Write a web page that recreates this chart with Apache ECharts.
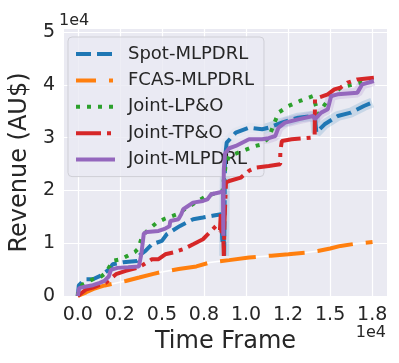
<!DOCTYPE html>
<html>
<head>
<meta charset="utf-8">
<script src="https://cdn.jsdelivr.net/npm/echarts@6/dist/echarts.min.js"></script>
<style>
  html, body { margin: 0; padding: 0; background: #fff; }
  #chart { width: 399px; height: 363px; }
</style>
</head>
<body>
<div id="chart"></div>
<script>
// ticks (matplotlib scalar formatter with 1e4 offset)
const xTicks = [0, 2500, 5000, 7500, 10000, 12500, 15000, 17500];
const xTickLabels = ['0.0', '0.2', '0.5', '0.8', '1.0', '1.2', '1.5', '1.8'];
const yTicks = [0, 10000, 20000, 30000, 40000, 50000];
const yTickLabels = ['0', '1', '2', '3', '4', '5'];

const seriesNames = ['Spot-MLPDRL', 'FCAS-MLPDRL', 'Joint-LP&O', 'Joint-TP&O', 'Joint-MLPDRL'];

// [time frame, revenue]
const spotMlpdrl = [
  [0, 0], [60, 2000], [120, 2230], [410, 3180], [900, 3180], [1400, 3900], [1880, 5080],
  [2070, 6020], [2700, 6400], [3530, 6650], [3700, 7800], [4020, 8540], [4410, 9810],
  [5000, 10440], [5290, 11700], [6080, 13280], [6860, 14550], [7440, 14860], [8000, 15200],
  [8520, 15490], [8600, 9800], [8650, 15000], [8700, 7600], [8750, 26000], [8850, 29060],
  [9390, 30950], [10180, 31910], [10960, 31590], [11350, 31910], [12130, 32850],
  [13110, 33800], [13890, 34110], [14100, 33800], [14180, 30960], [14670, 32540],
  [15450, 34110], [16230, 34750], [17010, 36010], [17500, 36650]
];
const fcasMlpdrl = [
  [0, 0], [500, 700], [900, 1300], [1600, 2000], [2850, 2850], [3650, 3500], [4500, 4200],
  [5000, 4570], [6000, 5100], [7050, 5600], [7830, 6340], [9000, 6800], [10180, 7290],
  [11500, 7650], [12520, 7920], [13500, 8200], [14270, 8540], [15000, 9000], [15620, 9490],
  [16500, 9900], [17520, 10250]
];
const jointLpo = [
  [0, 0], [20, 1290], [310, 2230], [900, 3180], [1390, 3690], [1700, 4500], [2070, 6650],
  [2560, 6970], [2950, 7600], [3400, 8360], [3600, 9000], [3830, 11380], [4220, 12650],
  [4700, 13920], [5200, 14680], [5900, 15500], [6660, 17060], [7640, 18960], [8610, 19900],
  [8710, 22750], [8800, 25000], [9000, 26530], [9790, 27480], [10560, 28430], [10960, 28750],
  [11350, 30010], [11930, 34750], [12520, 36000], [13200, 36960], [13990, 37900],
  [14200, 35500], [14300, 34430], [14470, 35380], [15060, 37900], [15230, 38220],
  [15620, 39500], [16400, 40110], [17000, 40600], [17600, 41050]
];
const jointTpo = [
  [0, 0], [510, 1290], [900, 1600], [1680, 2550], [2270, 4130], [2850, 4750], [3630, 5400],
  [4410, 6970], [4800, 6970], [5200, 7900], [5680, 8240], [6270, 8860], [6860, 9810],
  [7440, 10760], [7830, 12020], [8220, 13280], [8450, 12500], [8500, 15500], [8560, 11500],
  [8620, 15200], [8680, 7600], [8720, 14000], [8810, 21500], [9000, 21800], [9690, 22440],
  [10180, 23740], [10560, 24330], [11350, 24640], [12030, 24960], [12040, 27480],
  [12130, 29380], [12710, 29700], [13890, 30010], [14080, 30330], [14100, 37370],
  [14860, 38220], [15250, 39170], [15620, 39500], [16030, 40420], [16620, 41050], [17600, 41370]
];
const jointMlpdrl = [
  [0, 0], [80, 1500], [410, 1750], [900, 2050], [1300, 2500], [1580, 2870], [1840, 3690],
  [1970, 4950], [2360, 5330], [3000, 5450], [3630, 5580], [3780, 8000], [3925, 11830],
  [4120, 12150], [4800, 12330], [5200, 12780], [5300, 12650], [5450, 13200], [5500, 14220],
  [5980, 14540], [6150, 15500], [6270, 16440], [6850, 17700], [7440, 18010], [7700, 18300],
  [7930, 19280], [8400, 19600], [8630, 19900], [8650, 11400], [8680, 24000], [8750, 27000],
  [9000, 28000], [9390, 28430], [10180, 29700], [10960, 29700], [11350, 29900],
  [11740, 30320], [11930, 31910], [12320, 32850], [13100, 33480], [13990, 34110],
  [14100, 33500], [14470, 34750], [14860, 35380], [15060, 37900], [15450, 38220],
  [16620, 38540], [16910, 40110], [17600, 40740]
];

const colors = ['#1f77b4', '#ff7f0e', '#2ca02c', '#d62728', '#9467bd'];
const dashes = [[15, 6], [36, 13], [4, 7], [25, 6, 4, 6], 'solid'];
const legendDashes = [[15, 6], [20, 13, 4, 13], [4, 7], [25, 6, 4, 6], 'solid'];
const font = 'DejaVu Sans';
const ink = '#262626';

const chart = echarts.init(document.getElementById('chart'));

function lineSeries(name, data, i) {
  return {
    name: name, type: 'line', data: data,
    symbol: 'none', showSymbol: false, animation: false,
    lineStyle: { color: colors[i], width: 4, type: dashes[i], cap: 'butt' },
    itemStyle: { color: colors[i] },
    z: 10 + i
  };
}

// faint error bands around blue / purple in later part
function halo(data, i) {
  return {
    type: 'line', data: data.filter(d => d[0] >= 8700), symbol: 'none',
    silent: true, animation: false,
    lineStyle: { color: colors[i], width: 10, opacity: 0.17 },
    z: 3
  };
}

const allData = [spotMlpdrl, fcasMlpdrl, jointLpo, jointTpo, jointMlpdrl];

chart.setOption({
  backgroundColor: '#ffffff',
  animation: false,
  grid: {
    left: 59, right: 12, top: 29, bottom: 67,
    show: true, backgroundColor: '#EAEAF2', borderWidth: 0
  },
  xAxis: {
    type: 'value', min: -820, max: 18380,
    axisLine: { show: false }, axisTick: { show: false, customValues: xTicks },
    splitLine: { show: true, lineStyle: { color: '#ffffff', width: 1.2 } },
    axisLabel: {
      customValues: xTicks, margin: 10,
      fontFamily: font, fontSize: 19, color: ink,
      formatter: v => xTickLabels[xTicks.indexOf(v)]
    },
    name: 'Time Frame', nameLocation: 'middle', nameGap: 32,
    nameTextStyle: { fontFamily: font, fontSize: 24, color: ink }
  },
  yAxis: {
    type: 'value', min: 0, max: 50600,
    axisLine: { show: false }, axisTick: { show: false, customValues: yTicks },
    splitLine: { show: true, lineStyle: { color: '#ffffff', width: 1.2 } },
    axisLabel: {
      customValues: yTicks, margin: 9,
      fontFamily: font, fontSize: 19, color: ink,
      formatter: v => yTickLabels[yTicks.indexOf(v)]
    },
    name: 'Revenue (AU$)', nameLocation: 'middle', nameGap: 25,
    nameTextStyle: { fontFamily: font, fontSize: 24, color: ink }
  },
  legend: {
    left: 68, top: 37, orient: 'vertical',
    padding: [8, 10, 8, 6],
    itemWidth: 39, itemHeight: 18, itemGap: 8.4,
    backgroundColor: 'rgba(234,234,242,0.8)',
    borderColor: '#cfcfd6', borderWidth: 1, borderRadius: 4,
    itemStyle: { opacity: 0 },
    textStyle: { fontFamily: font, fontSize: 18, color: ink, lineHeight: 18, padding: [0, 0, 0, 8] },
    data: seriesNames.map((n, i) => ({
      name: n,
      lineStyle: { color: colors[i], width: 4, type: legendDashes[i] }
    }))
  },
  graphic: [
    { type: 'text', left: 59, top: 13,
      style: { text: '1e4', font: '16px "DejaVu Sans"', fill: ink } },
    { type: 'text', right: 13, top: 325,
      style: { text: '1e4', font: '16px "DejaVu Sans"', fill: ink } }
  ],
  series: [
    halo(spotMlpdrl, 0),
    halo(jointMlpdrl, 4),
    {
      type: 'line', data: fcasMlpdrl, symbol: 'none', silent: true, animation: false,
      lineStyle: { color: '#ffffff', width: 1.5 }, z: 4
    }
  ].concat(allData.map((d, i) => lineSeries(seriesNames[i], d, i)))
});
</script>
</body>
</html>
